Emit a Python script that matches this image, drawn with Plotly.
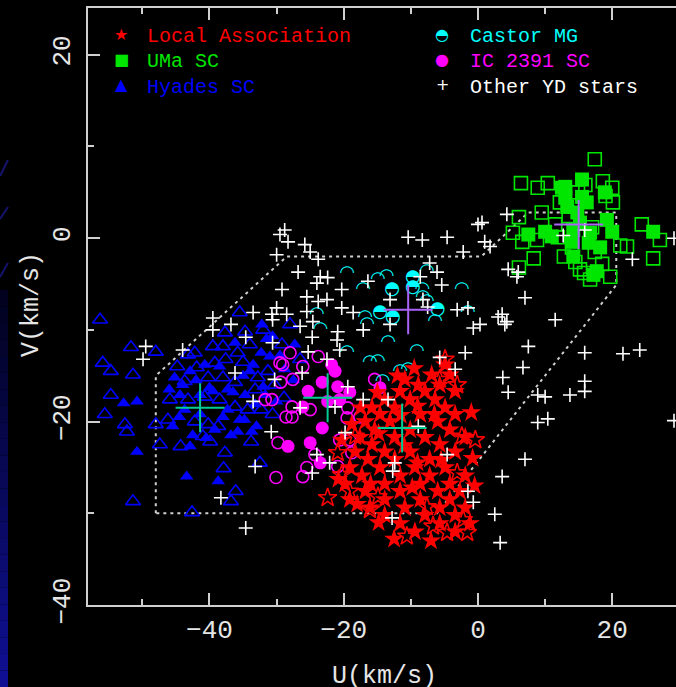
import plotly.graph_objects as go

# ---------------- data: heliocentric velocities (U, V) in km/s ----------------
# Hyades supercluster
hyades_open_u = [-56.3, -51.7, -48.0, -55.9, -54.7, -51.4, -54.7, -55.6, -52.6, -52.3, -48.0, -47.4,
                 -51.4, -42.6, -44.3, -35.5, -37.7, -34.7, -39.5, -38.0, -42.2, -43.2, -39.2, -37.6,
                 -35.0, -43.7, -40.2, -38.0, -36.2, -45.9, -43.2, -40.7, -38.5, -36.2, -34.3, -32.3,
                 -30.6, -46.2, -42.2, -40.2, -38.7, -39.9, -37.7, -33.8, -32.5, -36.1, -36.8, -32.0,
                 -29.2, -28.0, -26.5, -31.3, -28.9, -33.2, -41.9, -34.0, -30.3, -41.0, -37.9, -44.8,
                 -32.8, -35.8]
hyades_open_v = [-8.9, -11.9, -12.4, -13.6, -14.5, -14.9, -17.1, -19.2, -20.3, -21.1, -20.3, -22.5,
                 -28.7, -29.9, -22.7, -8.1, -10.3, -10.2, -11.8, -11.8, -12.5, -12.7, -13.6, -13.2,
                 -13.5, -15.6, -15.2, -15.2, -15.7, -17.6, -17.6, -17.3, -17.6, -18.4, -18.7, -18.7,
                 -19.2, -19.8, -20.0, -20.3, -20.5, -22.2, -23.4, -22.2, -24.5, -27.6, -28.7, -10.0,
                 -11.6, -9.4, -13.2, -14.5, -17.4, -16.5, -14.1, -11.6, -16.0, -21.6, -25.1, -14.0,
                 -15.2, -12.5]
hyades_fill_u = [-52.8, -50.8, -50.8, -43.4, -45.2, -45.5, -42.9, -35.8, -38.7, -30.6, -32.3, -31.0,
                 -36.2, -41.4, -44.4, -39.5, -37.3, -34.7, -33.2, -37.3, -43.7, -41.4, -34.0, -40.7,
                 -42.9, -35.5, -31.7, -28.8, -27.3, -32.2, -39.2, -33.7, -44.0, -42.0, -40.0, -38.5,
                 -36.5, -35.0, -33.5, -32.0, -30.0, -29.5, -31.5, -34.8, -38.0, -40.5, -36.8, -42.5,
                 -44.5, -46.0, -27.5, -33.0]
hyades_fill_v = [-18.0, -17.8, -23.3, -26.0, -15.2, -20.5, -22.7, -21.1, -26.5, -10.7, -12.5, -12.9,
                 -11.4, -17.1, -17.1, -16.7, -16.5, -17.1, -18.1, -18.7, -18.7, -19.2, -14.5, -13.8,
                 -14.5, -19.8, -17.1, -14.3, -11.6, -9.4, -20.9, -21.1, -16.0, -15.5, -16.3, -14.0,
                 -16.8, -15.0, -13.8, -16.2, -17.8, -12.8, -11.0, -19.8, -19.5, -21.8, -21.5, -21.5,
                 -19.5, -16.5, -15.5, -20.5]

# IC 2391 supercluster
ic_open_u = [-28.0, -29.1, -26.1, -23.8, -27.6, -30.7, -27.7, -27.7, -25.0, -19.4, -17.6, -19.5,
             -15.4, -20.6, -19.1, -18.8, -29.8, -24.3, -25.5, -20.9, -30.1, -26.1, -31.7, -29.5,
             -29.4, -28.6]
ic_open_v = [-12.5, -13.8, -14.0, -12.9, -15.4, -17.6, -18.4, -19.5, -18.7, -18.5, -19.5, -19.6,
             -15.4, -22.0, -22.0, -23.4, -22.3, -23.6, -25.0, -24.9, -26.1, -26.0, -17.6, -13.6,
             -15.7, -19.5]
ic_fill_u = [-21.8, -23.2, -21.3, -25.3, -20.6, -19.1, -26.1, -23.2, -28.3, -25.0, -23.5, -14.6,
             -22.4, -20.9]
ic_fill_v = [-13.8, -15.7, -14.5, -16.7, -17.6, -16.8, -18.4, -20.7, -22.7, -22.3, -24.5, -16.3,
             -17.8, -16.2]

# Castor moving group
castor_open_u = [-19.5, -13.6, -14.9, -7.6, -17.1, -2.4, -8.3, -8.2, -7.6, -24.0, -16.8, -16.5,
                 -6.4, -1.5, -23.5, -13.4, -9.1, -19.5, -16.1, -14.9, -11.6, -10.4, -14.2]
castor_open_v = [-3.8, -4.2, -4.5, -3.6, -5.6, -5.6, -5.6, -6.5, -6.9, -8.3, -8.7, -9.4,
                 -9.1, -8.1, -10.0, -11.4, -12.4, -12.5, -13.6, -13.5, -14.5, -14.3, -15.6]
castor_fill_u = [-9.7, -12.8, -9.7, -14.6, -12.7, -6.0]
castor_fill_v = [-4.3, -5.6, -5.4, -8.1, -8.6, -7.8]

# Ursa Major supercluster
uma_open_u = [17.4, 6.4, 8.9, 10.4, 18.6, 20.0, 20.1, 12.2, 6.1, 11.5, 5.2, 6.6, 8.8, 11.9,
              8.3, 14.0, 14.5, 17.4, 21.2, 22.2, 24.4, 27.1, 26.1, 16.7, 19.7, 15.2, 6.1, 14.9,
              16.0, 19.0, 13.5, 17.0, 12.8, 15.8, 18.5, 9.5]
uma_open_v = [8.6, 6.0, 5.5, 6.0, 6.2, 5.5, 3.9, 3.9, 2.3, 1.5, 0.6, -0.4, -0.2, 0.1,
              -2.2, -1.0, -2.6, -1.5, -0.8, -0.9, 1.5, -0.2, -2.2, -4.5, -4.2, -3.4, -3.2, 5.0,
              5.8, 4.6, 2.4, 1.2, -2.0, -3.8, -2.8, 2.8]
uma_fill_u = [15.5, 13.0, 18.9, 13.3, 16.2, 14.8, 19.2, 7.5, 10.0, 11.0, 14.2, 16.7, 20.0, 26.1,
              14.0, 18.2, 17.7, 12.5, 15.5, 13.0, 15.2, 17.2, 14.2, 16.5]
uma_fill_v = [6.4, 5.6, 5.0, 3.4, 3.9, 2.8, 2.0, 0.4, 0.7, 0.2, 0.9, 0.6, 0.7, 0.7,
              -0.4, -1.0, -3.6, 5.5, 4.5, 4.4, 1.7, -4.0, -2.0, -0.5]

# Local Association
la_open_u = [-4.9, -3.1, -5.7, -2.4, -0.4, -3.1, -2.2, -4.6, -10.6, -22.4, -19.1, -20.3, -20.9,
             -18.3, -14.9, -16.1, -7.6, -6.7, -1.6]
la_open_v = [-13.2, -16.0, -15.4, -21.6, -22.0, -25.6, -30.7, -32.1, -32.5, -28.3, -27.6, -25.8, -23.4,
             -21.6, -28.2, -29.6, -29.3, -31.4, -32.1]
la_fill_u = [-4.9, -6.9, -4.2, -8.9, -5.7, -11.6, -7.9, -3.4, -13.9, -10.1, -6.4, -15.8, -12.4, -4.9,
             -14.6, -8.6, -3.4, -16.8, -13.1, -6.0, -15.4, -10.1, -4.2, -17.6, -12.4, -7.9, -1.9,
             -15.8, -5.7, -18.3, -13.9, -10.1, -3.4, -16.4, -12.4, -7.2, -19.1, -14.6, -9.4, -4.9,
             -17.3, -11.6, -7.2, -1.9, -19.8, -13.9, -8.6, -4.2, -16.8, -11.6, -6.0, -2.7, -19.1,
             -13.9, -8.6, -4.2, -16.1, -10.9, -5.7, -1.9, -13.9, -7.9, -3.4, -11.6, -5.7, -1.2,
             -9.4, -3.4, -10.9, -20.3, -9.0, -11.0, -9.8, -14.8, -15.0, -12.0, -9.5, -17.5,
             -18.8, -16.0, -14.8, -12.5, -7.0, -0.5, -0.8, -1.0, -6.5, -9.0, -5.5, -11.5,
             -20.8, -18.0]
la_fill_v = [-13.8, -14.9, -14.9, -16.0, -16.0, -16.7, -16.7, -16.7, -17.6, -17.6, -17.6, -18.5, -18.5,
             -18.5, -19.2, -19.2, -19.2, -20.0, -20.0, -20.0, -20.9, -20.9, -20.9, -21.7, -21.7, -21.7,
             -21.7, -22.5, -22.5, -23.3, -23.3, -23.3, -23.3, -24.1, -24.1, -24.1, -25.0, -25.0, -25.0,
             -25.0, -25.9, -25.9, -25.9, -25.9, -26.8, -26.8, -26.8, -26.8, -27.6, -27.6, -27.6, -27.6,
             -28.5, -28.5, -28.5, -28.5, -29.4, -29.4, -29.4, -29.4, -30.2, -30.2, -30.2, -31.1, -31.1,
             -31.1, -32.0, -32.0, -15.4, -22.0, -18.3, -22.6, -27.2, -21.3, -16.8, -15.0, -14.2, -18.5,
             -20.3, -26.8, -31.0, -32.8, -33.0, -27.0, -24.0, -19.0, -19.2, -24.5, -24.2, -19.3,
             -26.3, -29.0]

# Other young-disk stars
other_u = [-28.8, -29.5, -28.3, -25.8, -25.0, -30.0, -23.8, -26.8, -23.5, -22.4, -24.0, -29.2,
           -20.3, -25.5, -22.5, -23.8, -20.3, -18.6, -30.0, -30.7, -28.5, -33.5, -39.5, -25.5,
           -16.4, -13.1, -10.4, -8.3, -4.6, -2.2, -7.2, -6.1, -5.4, -8.6, -3.1, -1.5, 0.0, -8.2,
           -24.6, -26.5, -24.7, -20.9, -21.0, -17.1, -13.1, 0.6, 1.0, 1.8, 0.3, -0.7, -7.5, -1.9,
           3.0, -20.6, 4.3, 4.5, 6.0, 5.8, 7.0, 12.7, 15.9, 23.0, 29.2, 3.6, 4.3, 4.0, 11.5, 7.5,
           6.7, 3.7, 4.5, 15.9, 21.6, 24.1, 8.9, 10.0, 13.7, 15.9, 15.9, 8.9, 10.4, 7.0, 3.6, 2.5,
           3.3, 29.2, -49.5, -49.9, -44.0, -39.5, -36.8, -30.6, -34.6, -30.6, -36.2, -30.3, -33.5,
           -30.8, -33.2, -38.3, -34.6, -25.3, -22.5, -26.2, -19.4, -17.1, -26.5, -21.3, -13.4, -8.9,
           -19.8, -24.0, -22.1, -24.7, -12.4, -12.7, -4.6, -1.5, -0.7, -12.8, -5.7, -3.4]
other_v = [0.9, 0.4, -0.4, -0.7, -1.5, -1.8, -2.3, -3.7, -4.2, -4.3, -4.9, -5.6,
           -5.6, -6.4, -6.7, -6.9, -7.6, -8.1, -7.6, -8.3, -8.3, -8.1, -8.7, -8.0,
           -4.7, -6.7, 0.1, -0.2, 0.1, -1.5, -2.7, -3.7, -5.1, -4.2, -7.8, -7.6, 1.5, -6.7,
           -9.1, -9.6, -10.8, -10.2, -11.1, -10.0, -9.4, 1.7, -0.4, -0.9, -9.4, -9.8, -7.5, -12.5,
           -8.6, -12.2, 2.6, -3.4, -3.7, -4.2, -6.5, 0.3, 0.9, -2.3, 0.0, -8.3, -9.1, -9.4, -8.9, -11.8,
           -14.1, -15.2, -16.8, -12.5, -12.6, -12.2, -17.1, -17.3, -17.1, -15.6, -16.7, -20.1, -19.7, -24.1, -26.0, -30.1,
           -33.2, -19.9, -11.8, -13.2, -12.2, -10.0, -9.4, -8.9, -10.8, -11.4, -14.7, -15.4, -17.8,
           -21.1, -24.9, -28.3, -31.6, -12.4, -13.2, -14.7, -16.2, -17.6, -18.5, -18.4, -17.6, -20.5,
           -21.2, -23.6, -24.5, -25.6, -24.5, -25.4, -23.6, -27.6, -28.8, -30.5, -13.0, -14.3]

# Mean velocity of each kinematic group
mean_cyan_u = [-41.4, -22.4, -11.3]   # Hyades SC, IC 2391 SC, Local Association
mean_cyan_v = [-18.5, -17.4, -20.7]
mean_blue_u = [-10.4, 15.0]           # Castor MG, UMa SC
mean_blue_v = [-7.8, 1.5]

# Eggen's young-disk boundary in the (U, V) plane
bound_u = [-48.0, -48.0, -28.5, 0.5, 7.5, 20.6, 20.6, -6.1, -48.0]
bound_v = [-30.0, -15.0, -2.0, -2.0, 2.8, 2.8, -5.1, -30.0, -30.0]

legend_left = ["Local Association", "UMa SC", "Hyades SC"]
legend_right = ["Castor MG", "IC 2391 SC", "Other YD stars"]

# ---------------- styling ----------------
RED, GREEN, BLUE = "#ff0000", "#00e600", "#0000ff"
CYAN, MAGENTA, WHITE = "#00ffff", "#ff00ff", "#ffffff"
FRAME = "#cfcfcf"
MONO = "Liberation Mono"

W, H = 676, 687
ML, MR, MT, MB = 88, 0, 8, 82


def px(x):
    """horizontal page pixel -> paper fraction"""
    return (x - ML) / (W - ML - MR)


def py(y):
    """vertical page pixel -> paper fraction"""
    return (H - MB - y) / (H - MT - MB)


def markers(u, v, symbol, size, color, filled):
    if filled:
        m = dict(symbol=symbol, size=size, color=color, line=dict(width=0))
    else:
        m = dict(symbol=symbol, size=size, color=color, line=dict(width=1.6, color=color))
    return go.Scatter(x=u, y=v, mode="markers", marker=m, hoverinfo="skip", cliponaxis=True)


fig = go.Figure()

fig.add_trace(go.Scatter(x=bound_u, y=bound_v, mode="lines",
                         line=dict(color=FRAME, width=2, dash="3px,4px"), hoverinfo="skip"))

fig.add_trace(markers(hyades_open_u, hyades_open_v, "triangle-up-open", 13, BLUE, False))
fig.add_trace(markers(hyades_fill_u, hyades_fill_v, "triangle-up", 12, BLUE, True))
fig.add_trace(markers(ic_open_u, ic_open_v, "circle-open", 12, MAGENTA, False))
fig.add_trace(markers(ic_fill_u, ic_fill_v, "circle", 13, MAGENTA, True))
fig.add_trace(go.Scatter(x=castor_open_u, y=castor_open_v, mode="text",
                         text=["\u25e0"] * len(castor_open_u),
                         textfont=dict(family="DejaVu Sans", size=18, color=CYAN), hoverinfo="skip"))
fig.add_trace(go.Scatter(x=castor_fill_u, y=castor_fill_v, mode="text",
                         text=["\u25d3"] * len(castor_fill_u),
                         textfont=dict(family="DejaVu Sans", size=18, color=CYAN), hoverinfo="skip"))
fig.add_trace(markers(uma_open_u, uma_open_v, "square-open", 13, GREEN, False))
fig.add_trace(markers(uma_fill_u, uma_fill_v, "square", 14, GREEN, True))
fig.add_trace(markers(la_open_u, la_open_v, "star-open", 14, RED, False))
fig.add_trace(markers(la_fill_u, la_fill_v, "star", 15, RED, True))
fig.add_trace(markers(other_u, other_v, "cross-thin-open", 10, WHITE, False))
fig.add_trace(go.Scatter(x=mean_cyan_u, y=mean_cyan_v, mode="markers", hoverinfo="skip",
                         marker=dict(symbol="cross-thin-open", size=35, line=dict(width=2, color=CYAN))))
fig.add_trace(go.Scatter(x=mean_blue_u, y=mean_blue_v, mode="markers", hoverinfo="skip",
                         marker=dict(symbol="cross-thin-open", size=35, line=dict(width=2, color=BLUE))))

axis_common = dict(
    showgrid=False, zeroline=False, showline=True, linecolor=FRAME, linewidth=2,
    ticks="inside", ticklen=12, tickwidth=2, tickcolor=FRAME, dtick=20, tick0=0,
    tickfont=dict(family=MONO, size=26, color="#e6e6e6"),
    minor=dict(dtick=10, tick0=0, ticks="inside", ticklen=6, tickwidth=2, tickcolor=FRAME),
)
fig.update_xaxes(range=[-58.1, 29.5], mirror="ticks", ticklabelstandoff=0, **axis_common)
fig.update_yaxes(range=[-40.0, 25.1], mirror=False, tickangle=-90, ticklabelstandoff=6,
                 **axis_common)

annotations = [
    dict(text="U(km/s)", x=px(385), y=py(676), xref="paper", yref="paper", showarrow=False,
         xanchor="center", yanchor="middle", font=dict(family=MONO, size=25, color="#e6e6e6")),
    dict(text="V(km/s)", x=px(31), y=py(305), xref="paper", yref="paper", showarrow=False,
         xanchor="center", yanchor="middle", textangle=-90,
         font=dict(family=MONO, size=25, color="#e6e6e6")),
]

rows = [36, 61, 87]
left_cols = [RED, GREEN, BLUE]
left_glyphs = ["\u2605", "\u25a0", "\u25b2"]
right_cols = [CYAN, MAGENTA, WHITE]
right_glyphs = ["\u25d3", "\u25cf", "+"]
for label, col, glyph, yy in zip(legend_left, left_cols, left_glyphs, rows):
    annotations.append(dict(text=label, x=px(145), y=py(yy), xref="paper", yref="paper",
                            showarrow=False, xanchor="left", yanchor="middle",
                            font=dict(family=MONO, size=20, color=col)))
    annotations.append(dict(text=glyph, x=px(121), y=py(yy - 2), xref="paper", yref="paper",
                            showarrow=False, xanchor="center", yanchor="middle",
                            font=dict(family="DejaVu Sans", size=16, color=col)))
for label, col, glyph, yy in zip(legend_right, right_cols, right_glyphs, rows):
    annotations.append(dict(text=label, x=px(468), y=py(yy), xref="paper", yref="paper",
                            showarrow=False, xanchor="left", yanchor="middle",
                            font=dict(family=MONO, size=20, color=col)))
    annotations.append(dict(text=glyph, x=px(442), y=py(yy - 2), xref="paper", yref="paper",
                            showarrow=False, xanchor="center", yanchor="middle",
                            font=dict(family="DejaVu Sans", size=16, color=col)))

# dark-blue strip along the left page edge
shapes = []
n_steps = 24
top, bottom = 290, H
for i in range(n_steps):
    y0 = top + (bottom - top) * i / n_steps
    y1 = top + (bottom - top) * (i + 1) / n_steps
    f = (i + 0.5) / n_steps
    col = "rgb(%d,%d,%d)" % (int(2 + 14 * f), int(2 + 14 * f), int(30 + 120 * f))
    shapes.append(dict(type="rect", xref="paper", yref="paper", x0=px(0), x1=px(8),
                       y0=py(y1), y1=py(y0), fillcolor=col, line=dict(width=0), layer="below"))
for (ya, yb) in [(176, 160), (219, 207), (277, 263)]:
    shapes.append(dict(type="line", xref="paper", yref="paper", x0=px(0), x1=px(8),
                       y0=py(ya), y1=py(yb), line=dict(color="#141470", width=2), layer="below"))

fig.update_layout(
    width=W, height=H,
    margin=dict(l=ML, r=MR, t=MT, b=MB, pad=0),
    paper_bgcolor="black", plot_bgcolor="black",
    showlegend=False,
    annotations=annotations,
    shapes=shapes,
)

fig.write_html("out.html")
